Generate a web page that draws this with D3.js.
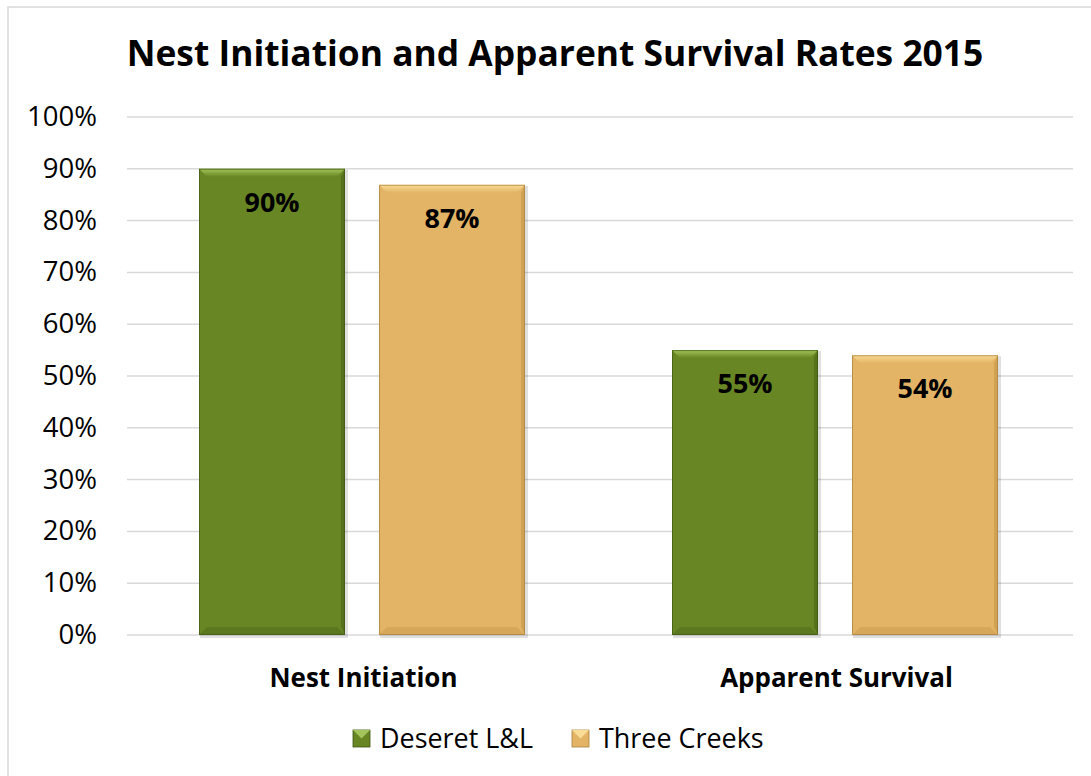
<!DOCTYPE html>
<html><head><meta charset="utf-8">
<script src="https://cdn.jsdelivr.net/npm/d3@7"></script>
<style>body{margin:0;background:#fff}svg{display:block;font-family:"Open Sans",sans-serif}</style>
</head><body><svg id="c" width="1091" height="776"></svg>
<script>
const categories = ["Nest Initiation", "Apparent Survival"];
const seriesNames = ["Deseret L&L", "Three Creeks"];
const deseret = [0.90, 0.55];
const threeCreeks = [0.869, 0.54];
const dataLabels = [["90%", "55%"], ["87%", "54%"]];
const yTicks = [0, 0.1, 0.2, 0.3, 0.4, 0.5, 0.6, 0.7, 0.8, 0.9, 1.0];
const title = "Nest Initiation and Apparent Survival Rates 2015";
const colors = [{main:"#688624", light:"#a3c45a", dark:"#4f6a18", darker:"#3f5512"},
                {main:"#e3b465", light:"#f9dc95", dark:"#c99a4c", darker:"#a8803c"}];
const series = [deseret, threeCreeks];

const svg = d3.select("#c");
svg.append("rect").attr("x",8).attr("y",7).attr("width",1100).attr("height",800)
  .attr("fill","#fff").attr("stroke","#d9d9d9").attr("stroke-width",1.5);

// fit font size so that a sample string has a target width
function fitSize(str, weight, target){
  const t = svg.append("text").attr("font-size",100).attr("font-weight",weight).text(str);
  const w = t.node().getComputedTextLength(); t.remove();
  return 100*target/w;
}

const x0 = d3.scaleBand().domain(categories).range([127,1073]).paddingInner(0).paddingOuter(0);
const x1 = d3.scaleBand().domain(seriesNames).range([72, 398]).paddingInner(0.189);
const y = d3.scaleLinear().domain([0,1]).range([635,117]);

svg.append("text").attr("x",555).attr("y",66).attr("text-anchor","middle")
  .attr("font-weight","bold").attr("font-size",fitSize(title,"bold",857)).attr("fill","#000").text(title);

// grid
svg.append("g").selectAll("line").data(yTicks).join("line")
  .attr("x1",127).attr("x2",1073).attr("y1",d=>y(d)).attr("y2",d=>y(d))
  .attr("stroke","#d9d9d9").attr("stroke-width",1.5);
// y labels
const ySize = fitSize("100%","normal",70);
svg.append("g").selectAll("text").data(yTicks).join("text")
  .attr("x",97).attr("y",d=>y(d)+9).attr("text-anchor","end")
  .attr("font-size",ySize).attr("fill","#000").text(d3.format(".0%"));

// bars with bevel
const b = 8;
const labSize = fitSize("90%","bold",55);
const gBars = svg.append("g");
const defs = svg.append("defs");
series.forEach((vals, si) => {
  const c = colors[si];
  const gr = defs.append("linearGradient").attr("id","top"+si).attr("x1",0).attr("x2",0).attr("y1",0).attr("y2",1);
  gr.append("stop").attr("offset",0).attr("stop-color",c.light);
  gr.append("stop").attr("offset",1).attr("stop-color",c.main);
  vals.forEach((v, ci) => {
    const xl = x0(categories[ci]) + x1(seriesNames[si]);
    const w = x1.bandwidth();
    const yt = y(v), yb = y(0);
    const g = gBars.append("g");
    g.append("rect").attr("x",xl+1).attr("y",yt+1).attr("width",w+2).attr("height",yb-yt+2).attr("fill","#000").attr("opacity",0.12);
    g.append("rect").attr("x",xl).attr("y",yt).attr("width",w).attr("height",yb-yt).attr("fill",c.main);
    const pts = a => a.map(p=>p.join(",")).join(" ");
    g.append("polygon").attr("points",pts([[xl,yt],[xl+w,yt],[xl+w-b,yt+b],[xl+b,yt+b]])).attr("fill",`url(#top${si})`);
    g.append("polygon").attr("points",pts([[xl+w,yt],[xl+w-4,yt+b],[xl+w-4,yb-b],[xl+w,yb]])).attr("fill",c.dark).attr("opacity",0.7);
    g.append("polygon").attr("points",pts([[xl,yb],[xl+w,yb],[xl+w-b,yb-b],[xl+b,yb-b]])).attr("fill",c.dark).attr("opacity",0.5);
    g.append("rect").attr("x",xl+0.5).attr("y",yt+0.5).attr("width",w-1).attr("height",yb-yt-1).attr("fill","none").attr("stroke",c.darker).attr("stroke-width",1).attr("opacity",0.7);
    g.append("text").attr("x",xl+w/2).attr("y",yt+43).attr("text-anchor","middle")
      .attr("font-weight","bold").attr("font-size",labSize).attr("fill","#000").text(dataLabels[si][ci]);
  });
});

// category labels
const catSize = fitSize("Nest Initiation","bold",188);
svg.append("g").selectAll("text").data(categories).join("text")
  .attr("x",d=>x0(d)+x0.bandwidth()/2).attr("y",687).attr("text-anchor","middle")
  .attr("font-weight","bold").attr("font-size",catSize).attr("fill","#000").text(d=>d);

// legend
const legSize = fitSize("Deseret L&L","normal",153);
const legX = [353, 572];
seriesNames.forEach((n,i)=>{
  const c = colors[i];
  const g = svg.append("g").attr("transform",`translate(${legX[i]},730)`);
  g.append("rect").attr("width",17).attr("height",17).attr("fill",c.main).attr("stroke",c.darker).attr("stroke-width",0.8);
  g.append("polygon").attr("points","0,0 17,0 8.5,8.5").attr("fill",c.light);
  g.append("text").attr("x",27).attr("y",18).attr("font-size",legSize).attr("fill","#000").text(n);
});
</script></body></html>
